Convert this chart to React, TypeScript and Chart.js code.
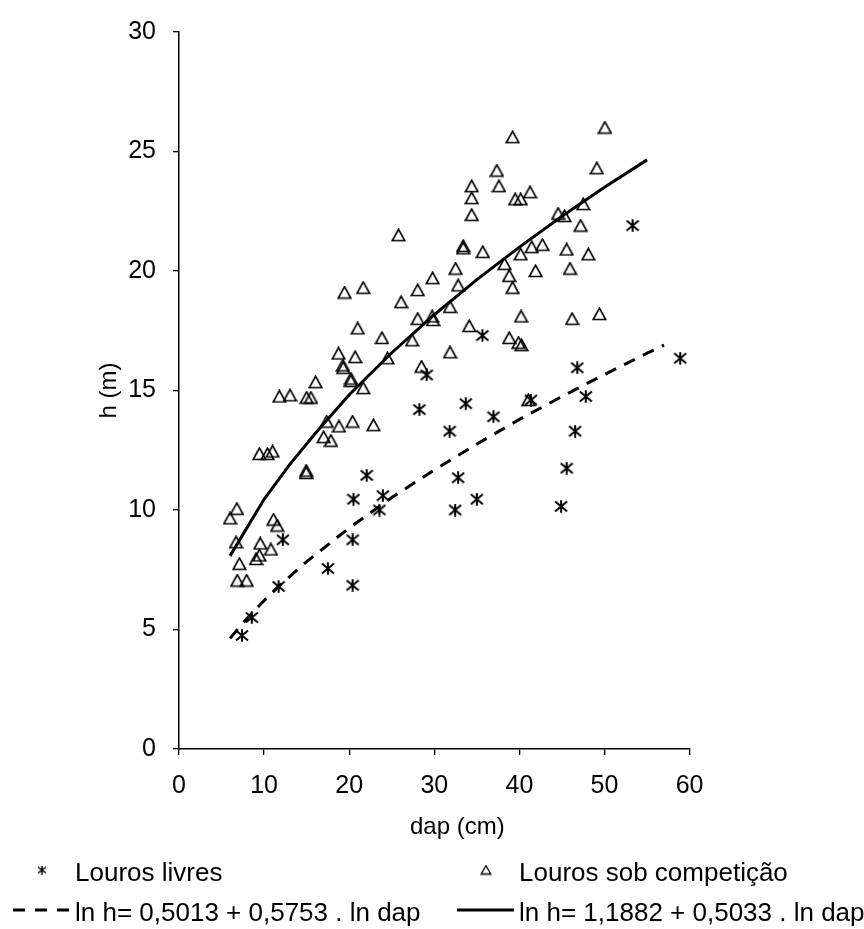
import React, { useEffect, useRef } from 'react';
import { Chart, registerables } from 'chart.js';

Chart.register(...registerables);

// ---- Data ----
const livresDap = [7.4, 8.55, 11.7, 20.4, 17.5, 12.2, 20.4, 23.55, 23.95, 20.5, 22.05, 32.45, 32.8, 35.0, 31.8, 28.25, 29.1, 33.7, 36.95, 35.65, 41.35, 44.9, 45.55, 46.55, 46.8, 47.8, 53.3, 58.9];
const livresH = [4.75, 5.5, 6.8, 6.85, 7.55, 8.75, 8.75, 10.0, 10.6, 10.45, 11.45, 10.0, 11.35, 10.45, 13.3, 14.2, 15.65, 14.45, 13.9, 17.3, 14.6, 10.15, 11.75, 13.3, 15.95, 14.75, 21.9, 16.35];

const competDap = [6.0, 6.8, 6.7, 7.1, 6.85, 7.95, 9.05, 9.45, 9.55, 10.8, 11.1, 11.55, 9.45, 10.4, 11.0, 11.8, 13.05, 15.0, 15.5, 14.95, 14.95, 16.05, 17.35, 18.8, 20.4, 22.85, 17.0, 17.85, 18.75, 20.7, 19.25, 19.3, 20.2, 20.2, 21.65, 19.45, 21.65, 21.0, 23.85, 24.5, 25.8, 26.1, 27.4, 28.05, 28.05, 28.5, 29.8, 29.75, 29.85, 31.85, 31.85, 32.5, 32.8, 33.4, 33.4, 34.1, 34.4, 34.4, 34.4, 35.7, 37.35, 37.6, 38.25, 38.8, 39.2, 38.8, 39.2, 39.5, 40.15, 39.9, 40.25, 40.15, 40.2, 41.05, 41.25, 41.45, 41.9, 42.7, 44.55, 45.3, 45.55, 45.95, 46.2, 47.2, 47.5, 48.1, 49.1, 49.4, 50.05];
const competH = [9.65, 10.05, 8.65, 7.75, 7.05, 7.05, 7.95, 8.1, 8.6, 8.35, 9.6, 9.35, 12.35, 12.35, 12.45, 14.75, 14.8, 14.7, 14.7, 11.65, 11.55, 15.35, 13.7, 13.5, 13.7, 13.55, 13.05, 12.9, 16.55, 16.4, 16.05, 15.95, 15.5, 15.4, 15.1, 19.1, 19.3, 17.6, 17.2, 16.35, 21.5, 18.7, 17.1, 19.2, 18.0, 16.0, 19.7, 18.1, 17.95, 18.5, 16.6, 20.1, 19.4, 21.05, 20.95, 17.7, 23.55, 23.05, 22.35, 20.8, 24.2, 23.55, 20.3, 19.8, 19.3, 17.2, 25.6, 23.0, 23.0, 17.0, 16.9, 20.7, 18.1, 14.6, 23.3, 21.0, 20.0, 21.1, 22.4, 22.3, 20.9, 20.1, 18.0, 21.9, 22.8, 20.7, 24.3, 18.2, 26.0];

const fitLivresDap = [6, 7, 8, 10, 12, 15, 20, 25, 30, 35, 40, 45, 50, 55, 57];
const fitLivresH = [4.63, 5.06, 5.46, 6.21, 6.9, 7.84, 9.25, 10.52, 11.68, 12.76, 13.79, 14.75, 15.67, 16.56, 16.9];

const fitCompetDap = [6, 10, 13, 16, 20, 25, 30, 35, 40, 45, 50, 55];
const fitCompetH = [8.08, 10.45, 11.9, 13.2, 14.82, 16.58, 18.17, 19.64, 21.0, 22.29, 23.5, 24.65];

const xTickValues = [0, 10, 20, 30, 40, 50, 60];
const yTickValues = [0, 5, 10, 15, 20, 25, 30];

const seriesLabels = [
  'Louros livres',
  'Louros sob competição',
  'ln h= 0,5013 + 0,5753 . ln dap',
  'ln h= 1,1882 + 0,5033 . ln dap',
];
const xTitle = 'dap (cm)';
const yTitle = 'h (m)';

const FONT = "'Liberation Sans', Arial, sans-serif";

function makeStar(w: number, h: number, lw: number): HTMLCanvasElement {
  const c = document.createElement('canvas');
  c.width = w;
  c.height = h;
  const g = c.getContext('2d')!;
  g.strokeStyle = '#000';
  g.lineWidth = lw;
  const m = w / 2;
  g.beginPath();
  g.moveTo(1, 1.5);
  g.lineTo(w - 1, h - 1.5);
  g.moveTo(w - 1, 1.5);
  g.lineTo(1, h - 1.5);
  g.moveTo(m, 0.3);
  g.lineTo(m, h - 0.3);
  g.stroke();
  return c;
}

function makeTriangle(w: number, h: number, lw: number): HTMLCanvasElement {
  const c = document.createElement('canvas');
  c.width = w;
  c.height = h;
  const g = c.getContext('2d')!;
  g.strokeStyle = '#000';
  g.lineWidth = lw;
  g.lineJoin = 'miter';
  g.beginPath();
  g.moveTo(w / 2, 1.2);
  g.lineTo(1.2, h - 1.5);
  g.lineTo(w - 1.2, h - 1.5);
  g.closePath();
  g.stroke();
  return c;
}

const legendPlugin = {
  id: 'customLegend',
  afterDraw(chart: any) {
    const ctx = chart.ctx as CanvasRenderingContext2D;
    const ds = chart.data.datasets;
    const area = chart.chartArea;
    ctx.save();
    ctx.fillStyle = '#000';

    // x axis title (placed as in the reference, right of the axis centre)
    ctx.font = `24px ${FONT}`;
    ctx.textAlign = 'center';
    ctx.textBaseline = 'middle';
    ctx.fillText(xTitle, area.left + (area.right - area.left) * 0.545, 827);

    ctx.font = `26px ${FONT}`;
    ctx.textBaseline = 'alphabetic';
    ctx.textAlign = 'left';

    const row1Y = 870;
    const row2Y = 910;
    const baseOff = 11;

    // left column
    const starL = makeStar(10, 9, 1.5);
    ctx.drawImage(starL, 42 - 5, row1Y - 4.5);
    ctx.fillText(ds[0].label, 75, row1Y + baseOff);

    ctx.strokeStyle = '#000';
    ctx.lineWidth = 3;
    ctx.setLineDash([12, 10]);
    ctx.beginPath();
    ctx.moveTo(13, row2Y);
    ctx.lineTo(70, row2Y);
    ctx.stroke();
    ctx.setLineDash([]);
    ctx.fillText(ds[2].label, 75, row2Y + baseOff);

    // right column
    const rx = 519;
    const triL = makeTriangle(12, 11, 1.3);
    ctx.drawImage(triL, rx - 33 - 6, row1Y - 5.5);
    ctx.fillText(ds[1].label, rx, row1Y + baseOff);

    ctx.lineWidth = 3;
    ctx.beginPath();
    ctx.moveTo(rx - 62, row2Y);
    ctx.lineTo(rx - 5, row2Y);
    ctx.stroke();
    ctx.fillText(ds[3].label, rx, row2Y + baseOff);

    ctx.restore();
  },
};

export default function App() {
  const ref = useRef<HTMLCanvasElement | null>(null);

  useEffect(() => {
    if (!ref.current) return;
    const star = makeStar(14, 13, 2);
    const tri = makeTriangle(15, 14, 1.7);

    const toPts = (xs: number[], ys: number[]) => xs.map((x, i) => ({ x, y: ys[i] }));

    const chart = new Chart(ref.current, {
      type: 'scatter',
      data: {
        datasets: [
          {
            label: seriesLabels[0],
            data: toPts(livresDap, livresH),
            pointStyle: star as any,
            pointRadius: 6,
            showLine: false,
            order: 1,
          },
          {
            label: seriesLabels[1],
            data: toPts(competDap, competH),
            pointStyle: tri as any,
            pointRadius: 6,
            showLine: false,
            order: 1,
          },
          {
            label: seriesLabels[2],
            data: toPts(fitLivresDap, fitLivresH),
            showLine: true,
            pointRadius: 0,
            borderColor: '#000',
            borderWidth: 3,
            borderDash: [12, 9],
            tension: 0,
            order: 2,
          },
          {
            label: seriesLabels[3],
            data: toPts(fitCompetDap, fitCompetH),
            showLine: true,
            pointRadius: 0,
            borderColor: '#000',
            borderWidth: 3,
            tension: 0,
            order: 2,
          },
        ] as any,
      },
      options: {
        animation: false,
        responsive: true,
        maintainAspectRatio: false,
        layout: { padding: { left: 0, right: 174.4, top: 19.3, bottom: 80 } },
        plugins: {
          legend: { display: false },
          tooltip: { enabled: false },
        },
        scales: {
          x: {
            type: 'linear',
            position: 'bottom',
            min: 0,
            max: 60,
            afterBuildTicks: (axis: any) => {
              axis.ticks = xTickValues.map((v) => ({ value: v }));
            },
            ticks: {
              color: '#000',
              font: { family: FONT, size: 25 },
              padding: 16,
              maxRotation: 0,
              autoSkip: false,
            },
            grid: { drawOnChartArea: false, drawTicks: true, tickLength: 6, color: '#000', lineWidth: 1.3 },
            border: { display: true, color: '#000', width: 1.5 },
            title: { display: false },
            afterFit: (s: any) => {
              s.height = 100;
            },
          },
          y: {
            type: 'linear',
            min: 0,
            max: 30,
            afterBuildTicks: (axis: any) => {
              axis.ticks = yTickValues.map((v) => ({ value: v }));
            },
            ticks: {
              color: '#000',
              font: { family: FONT, size: 25 },
              padding: 17,
              autoSkip: false,
            },
            grid: { drawOnChartArea: false, drawTicks: true, tickLength: 6, color: '#000', lineWidth: 1.3 },
            border: { display: true, color: '#000', width: 1.5 },
            title: {
              display: true,
              text: yTitle,
              color: '#000',
              font: { family: FONT, size: 24 },
              padding: { top: 95, bottom: 0 },
            },
            afterFit: (s: any) => {
              s.width = 179;
            },
          },
        },
      } as any,
      plugins: [legendPlugin],
    });

    return () => {
      chart.destroy();
    };
  }, []);

  return (
    <div style={{ position: 'absolute', left: 0, top: 0, width: 864, height: 929, background: '#fff' }}>
      <canvas ref={ref} />
    </div>
  );
}
